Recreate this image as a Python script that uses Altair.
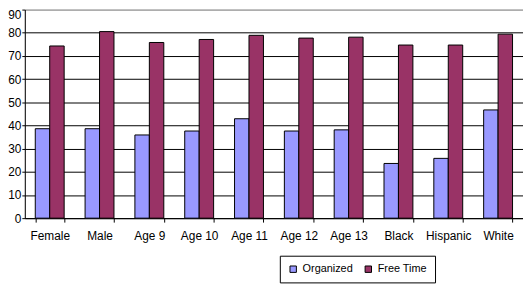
import altair as alt
import pandas as pd

categories = ["Female", "Male", "Age 9", "Age 10", "Age 11", "Age 12", "Age 13", "Black", "Hispanic", "White"]
organized = [38.6, 38.6, 35.9, 37.6, 42.9, 37.6, 38.1, 23.6, 25.8, 46.7]
free_time = [74.3, 80.5, 75.8, 77.1, 78.9, 77.7, 78.1, 74.7, 74.7, 79.4]
series = ["Organized", "Free Time"]
colors = ["#9999FF", "#993366"]
y_ticks = [0, 10, 20, 30, 40, 50, 60, 70, 80, 90]

rows = []
for c, o, f in zip(categories, organized, free_time):
    rows.append({"category": c, "series": series[0], "value": o})
    rows.append({"category": c, "series": series[1], "value": f})
df = pd.DataFrame(rows)

W = 504
H = 211
FONT = "Liberation Sans"

chart = alt.Chart(df).mark_bar(stroke="black", strokeWidth=1).encode(
    x=alt.X(
        "category:N", sort=categories, title=None,
        scale=alt.Scale(paddingInner=0.42, paddingOuter=0.21),
        axis=alt.Axis(labelAngle=0, tickBand="extent", grid=False, domainColor="black",
                      tickColor="black", tickSize=4, labelPadding=9, labelColor="black",
                      labelFontSize=12, labelFont=FONT),
    ),
    xOffset=alt.XOffset("series:N", sort=series, scale=alt.Scale(paddingInner=0, paddingOuter=0)),
    y=alt.Y(
        "value:Q", title=None, scale=alt.Scale(domain=[0, 90], nice=False),
        axis=alt.Axis(values=y_ticks, grid=True,
                      gridColor=alt.expr("datum.value == 90 ? '#808080' : 'black'"),
                      gridOpacity=1, domainColor="black", tickColor="black", tickSize=3,
                      labelPadding=1, labelColor="black", labelFontSize=12, labelFont=FONT,
                      labelOffset=alt.expr("datum.value == 90 ? 5 : 0")),
    ),
    color=alt.Color(
        "series:N", sort=series,
        scale=alt.Scale(domain=series, range=colors),
        legend=alt.Legend(
            title=None, orient="none", legendX=258, legendY=249, direction="horizontal",
            strokeColor="black", fillColor="white", padding=8, symbolType="square",
            symbolSize=42, symbolStrokeColor="black", symbolStrokeWidth=1,
            labelFontSize=11, labelFont=FONT, labelColor="black", columnPadding=10, labelOffset=4,
        ),
    ),
).properties(
    width=W, height=H,
    autosize=alt.AutoSizeParams(type="none"),
    padding={"left": 17, "top": 0, "right": 0, "bottom": 65},
).configure_view(
    fill="#C0C0C0", stroke="#808080", strokeWidth=1
).configure(background="white")

chart.save("out.html", embed_options={"renderer": "svg", "actions": False})
